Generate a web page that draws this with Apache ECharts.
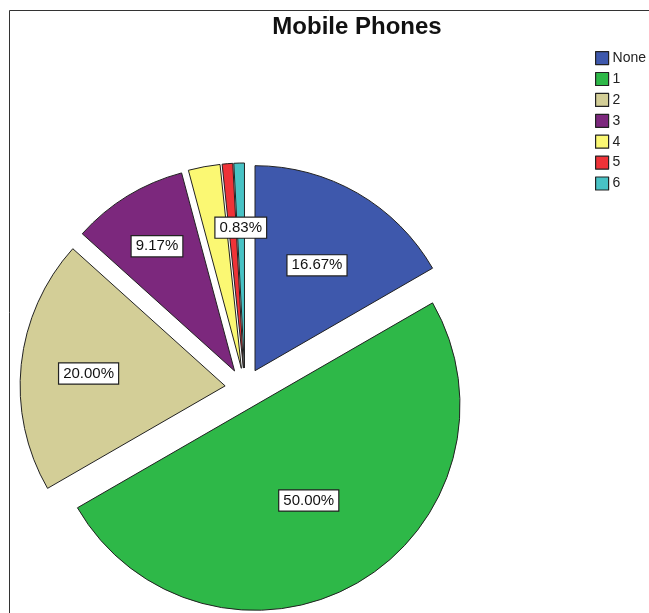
<!DOCTYPE html>
<html>
<head>
<meta charset="utf-8">
<script src="https://cdn.jsdelivr.net/npm/echarts@6/dist/echarts.min.js"></script>
<style>
  html, body { margin: 0; padding: 0; background: #fff; }
  #chart { width: 649px; height: 613px; }
</style>
</head>
<body>
<div id="chart"></div>
<script>
// ---- data ----
const titleText = 'Mobile Phones';
const categories = ['None', '1', '2', '3', '4', '5', '6'];
const percents = [16.67, 50.00, 20.00, 9.17, 2.50, 0.83, 0.83];
const showLabel = [true, true, true, true, false, false, true];

// ---- style config ----
const colors = ['#3E58AC', '#2EB848', '#D3CE97', '#7C287D', '#FBF873', '#EF3338', '#48C2C5'];
const labelRadiusRatio = [0.59, 0.51, 0.655, 0.71, 0.6, 0.6, 0.68];
const pieCenter = [245, 388];
const pieRadius = 205;
const explode = 20;

const total = percents.reduce((a, b) => a + b, 0);
let cum = 0;
const labelShift = [];
const data = categories.map((name, i) => {
  const mid = (cum + percents[i] / 2) / total * 2 * Math.PI;
  cum += percents[i];
  const k = (labelRadiusRatio[i] - 0.5) * pieRadius;
  labelShift.push([k * Math.sin(mid), -k * Math.cos(mid)]);
  return {
    name: name,
    value: percents[i],
    selected: true,
    itemStyle: { color: colors[i] },
    label: { show: showLabel[i] }
  };
});

const chart = echarts.init(document.getElementById('chart'), null, { renderer: 'canvas' });
chart.setOption({
  animation: false,
  backgroundColor: '#fff',
  graphic: [
    {
      type: 'rect',
      shape: { x: 9.5, y: 10.5, width: 700, height: 700 },
      style: { fill: 'none', stroke: '#333', lineWidth: 1 },
      silent: true, z: -10
    },
    {
      type: 'text',
      x: 357, y: 27,
      style: {
        text: titleText,
        fill: '#111',
        font: 'bold 24px "Liberation Sans", Arial, sans-serif',
        textAlign: 'center',
        textVerticalAlign: 'middle'
      },
      silent: true
    }
  ],
  legend: {
    orient: 'vertical',
    left: 595,
    top: 51,
    padding: 0,
    itemWidth: 13,
    itemHeight: 13,
    itemGap: 6.7,
    icon: 'rect',
    selectedMode: false,
    data: categories,
    itemStyle: { borderColor: '#222', borderWidth: 1.2 },
    textStyle: { fontFamily: '"Liberation Sans", Arial, sans-serif', fontSize: 14, color: '#222', padding: [0, 0, 0, -1] }
  },
  series: [{
    type: 'pie',
    center: pieCenter,
    radius: [0, pieRadius],
    startAngle: 90,
    clockwise: true,
    selectedMode: 'multiple',
    selectedOffset: explode,
    avoidLabelOverlap: false,
    emphasis: { disabled: true },
    itemStyle: { borderColor: '#222', borderWidth: 1 },
    select: { itemStyle: { borderColor: '#222', borderWidth: 1 } },
    label: {
      show: true,
      position: 'inside',
      formatter: p => p.value.toFixed(2) + '%',
      fontFamily: '"Liberation Sans", Arial, sans-serif',
      fontSize: 15,
      color: '#111',
      backgroundColor: '#fff',
      borderColor: '#222',
      borderWidth: 1.2,
      padding: [3, 4, 2, 4]
    },
    labelLayout: p => ({ dx: labelShift[p.dataIndex][0], dy: labelShift[p.dataIndex][1] + 2 }),
    labelLine: { show: false },
    data: data
  }]
});
</script>
</body>
</html>
